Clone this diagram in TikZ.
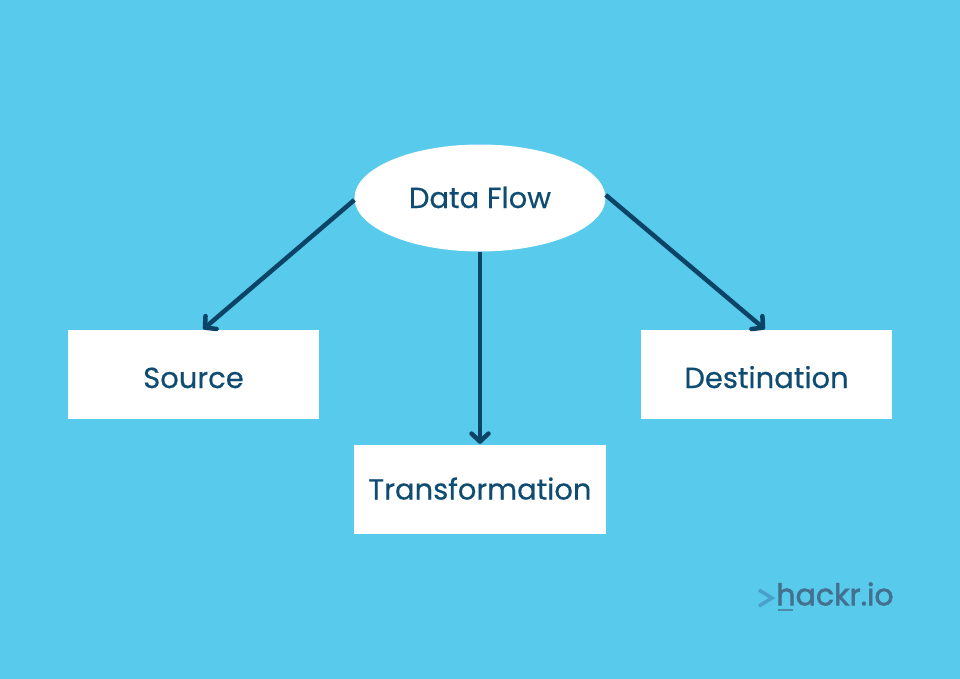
\documentclass[tikz,border=0pt]{standalone}
\usepackage{fontspec}
\setmainfont{Poppins}
\usetikzlibrary{arrows.meta,shapes.geometric,calc}
\definecolor{bgblue}{HTML}{58CAEB}
\definecolor{navy}{HTML}{0F4C71}
\definecolor{arrownavy}{HTML}{0C4468}
\definecolor{logodark}{HTML}{44708F}
\definecolor{logolight}{HTML}{4A9FCB}
\tikzset{
  x=1pt,y=-1pt,
  label text/.style={text=navy,font=\fontsize{29}{34}\selectfont\addfontfeature{FakeBold=0.5}},
  box/.style={label text,fill=white,minimum width=251.5pt,minimum height=89pt,inner sep=0pt,text depth=0pt},
  bubble/.style={label text,ellipse,fill=white,minimum width=251pt,minimum height=107pt,inner sep=0pt},
  flow/.style={draw=arrownavy,line width=4.5pt,-{Straight Barb[length=8pt,width=17pt,line width=4.5pt,round]},shorten >=1pt}
}
\begin{document}
\begin{tikzpicture}
\useasboundingbox (0,0) rectangle (960,679);
\fill[bgblue] (0,0) rectangle (960,679);
\node[bubble,text height=20pt,text depth=0pt] (data) at (480,198) {Data Flow};
\node[box,text height=27pt] (source) at (193.5,374.5) {Source};
\node[box,text height=20pt] (trans) at (480,489.5) {Transformation};
\node[box,text height=27pt] (dest) at (766.5,374.5) {Destination};
\draw[flow] (data.west) ++(0,2) -- ($(source.north)+(9,0)$);
\draw[flow] (data.south) -- (trans.north);
\draw[flow] (data.east) ++(0,-3) -- ($(dest.north)+(-1,0)$);
\node[inner sep=0pt,text=logodark,font=\fontsize{30}{36}\selectfont\addfontfeature{FakeBold=1.8}] (logo) at (835,594) {hackr.io};
\coordinate (gta) at (759,590);
\coordinate (gtb) at (772,598);
\coordinate (gtc) at (759,606);
\draw[logolight,line width=3.5pt] (gta) -- (gtb) -- (gtc);
\fill[logodark!70!bgblue] (778,608.5) rectangle (793,610.5);
\end{tikzpicture}
\end{document}
